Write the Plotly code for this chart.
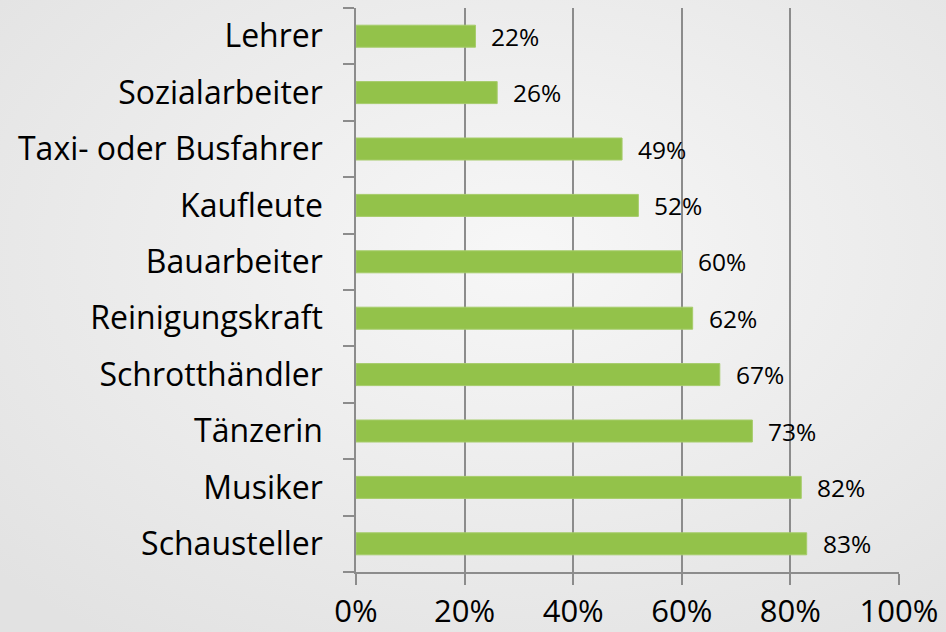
import base64
import plotly.graph_objects as go

categories = ["Schausteller", "Musiker", "Tänzerin", "Schrotthändler", "Reinigungskraft",
              "Bauarbeiter", "Kaufleute", "Taxi- oder Busfahrer", "Sozialarbeiter", "Lehrer"]
values = [83, 82, 73, 67, 62, 60, 52, 49, 26, 22]
tick_vals = [0, 20, 40, 60, 80, 100]
tick_text = ["0%", "20%", "40%", "60%", "80%", "100%"]

FONT = "Open Sans"
W, H = 946, 632
ML, MR, MT, MB = 356, 47, 8, 60
PW, PH = W - ML - MR, H - MT - MB

svg = f'''<svg xmlns="http://www.w3.org/2000/svg" width="{W}" height="{H}">
<defs><radialGradient id="g" cx="55%" cy="40%" r="75%">
<stop offset="0%" stop-color="#f7f7f7"/><stop offset="100%" stop-color="#e2e2e2"/>
</radialGradient></defs><rect width="{W}" height="{H}" fill="url(#g)"/></svg>'''
bg_uri = "data:image/svg+xml;base64," + base64.b64encode(svg.encode()).decode()

fig = go.Figure()
fig.add_trace(go.Bar(
    y=categories, x=values, orientation="h",
    marker=dict(color="#93C24A", line=dict(color="#A6CC6A", width=1)),
    width=0.39,
    hoverinfo="skip",
))
for c, v in zip(categories, values):
    fig.add_annotation(x=v, y=c, text=f"{v}%", showarrow=False, xanchor="left",
                       xshift=14, font=dict(family=FONT, size=24.5, color="#000000"))

fig.add_layout_image(dict(source=bg_uri, xref="paper", yref="paper",
                          x=-ML / PW, y=1 + MT / PH, sizex=W / PW, sizey=H / PH,
                          xanchor="left", yanchor="top", sizing="stretch", layer="below"))

fig.update_layout(
    width=W, height=H,
    margin=dict(l=ML, r=MR, t=MT, b=MB, autoexpand=False),
    paper_bgcolor="#EDEDED", plot_bgcolor="rgba(0,0,0,0)",
    showlegend=False,
    font=dict(family=FONT, color="#000000"),
    xaxis=dict(range=[0, 100], tickvals=tick_vals, ticktext=tick_text,
               showgrid=True, gridcolor="#8C8C8C", gridwidth=1.5,
               showline=True, linecolor="#8C8C8C", linewidth=1.5,
               ticks="outside", ticklen=11, tickcolor="#8C8C8C", tickwidth=1.5,
               tickfont=dict(size=31, family=FONT), ticklabelstandoff=0,
               zeroline=False, fixedrange=True),
    yaxis=dict(showline=True, linecolor="#8C8C8C", linewidth=1.5,
               ticks="outside", tickson="boundaries", ticklen=11,
               tickcolor="#8C8C8C", tickwidth=1.5, showgrid=False,
               tickfont=dict(size=32, family=FONT), ticklabelstandoff=25,
               range=[-0.5, 9.5], fixedrange=True),
)
fig.write_html("out.html", config={"displayModeBar": False},
               post_script="document.body.style.margin='0';")
